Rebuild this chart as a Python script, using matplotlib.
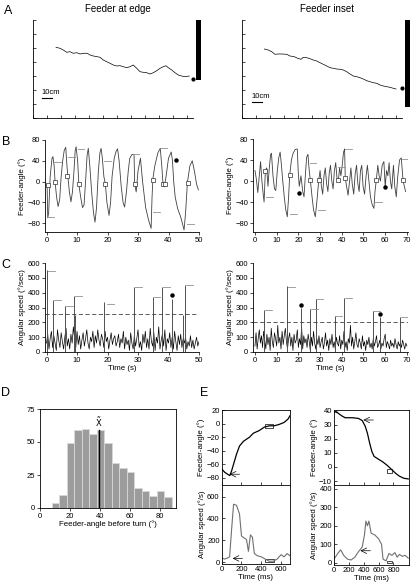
import numpy as np
import matplotlib
matplotlib.use("Agg")
from matplotlib import pyplot as plt
from matplotlib.patches import Rectangle

plt.rcParams['font.family'] = ['Liberation Sans', 'DejaVu Sans']
plt.rcParams['axes.linewidth'] = 0.6

W, H = 415, 586

# --- A: trajectories (position units, 10cm scale bar) ---
edge_x = [23, 27, 30.3, 33.7, 37, 40.3, 43.7, 47, 50.3, 54.3, 57, 60.3, 64.3, 67, 70.3, 73.7, 77, 80.3,
          83.7, 87, 90.3, 93.7, 97, 100.3, 103.7, 107, 110.3, 113.7, 117, 120.3, 123.7, 127, 130.3, 133,
          135.3, 138.7, 142, 145.3, 148.7, 152, 156.3]
edge_y = [70.7, 69.7, 68, 65.7, 66.3, 64.7, 65.3, 64, 64.7, 64.7, 63, 62, 61.3, 60.7, 58, 56.3, 54.7, 53,
          52, 52.3, 51.3, 50.3, 51.3, 53, 49.7, 46.3, 45.7, 45.3, 44, 45.3, 47.3, 49.7, 51.3, 52.3,
          50.3, 48, 45.3, 43, 42, 41.3, 42]
inset_x = [22.6, 26.6, 30, 33.3, 36.6, 40.6, 45, 48.3, 52.6, 56, 59.3, 61.6, 65, 68.3, 71.6, 75, 78.3,
           81.6, 85, 88.3, 91.6, 95, 98.3, 101.6, 105, 108.3, 111.6, 115, 118.3, 121.6, 125, 128.3,
           131.6, 135, 138.3, 141.6, 145, 148.3, 151.6, 154.3]
inset_y = [69, 68, 66.3, 63.7, 64, 64, 63.7, 62, 61.3, 59.7, 58.7, 60.7, 60.3, 59.3, 58, 57, 55.3, 53.7,
           52, 50.3, 49.7, 49, 48.7, 48, 46.3, 44, 42, 41.3, 40.3, 39, 37.3, 36.3, 35.3, 34.7, 33, 32,
           31.3, 30.7, 29.7, 29]
edge_end = (159.7, 38.7)
inset_end = (160, 29.7)
edge_wall = (38, 98)
inset_wall = (11, 99)

# --- B: feeder angle over time ---
bl_t = [0.0, 0.2, 0.4, 0.7, 1.2, 1.8, 2.1, 2.5, 2.8, 3.3, 3.8, 4.3, 4.8, 5.3, 5.8, 6.3, 6.7, 7.0, 7.5, 8.0,
        8.5, 9.0, 9.4, 9.7, 10.2, 10.6, 11.2, 11.8, 12.3, 12.8, 13.3, 13.7, 14.2, 14.8, 15.4, 15.9, 16.4,
        17.0, 17.5, 17.9, 18.3, 18.8, 19.3, 19.8, 20.5, 21.0, 21.5, 22.2, 22.8, 23.3, 23.8, 24.5, 25.1,
        25.6, 26.2, 26.8, 27.3, 28.0, 28.7, 28.9, 29.4, 30.0, 30.8, 31.5, 32.5, 33.5, 34.3, 34.6, 34.9,
        35.5, 36.5, 37.3, 37.8, 38.2, 38.6, 39.2, 40.0, 40.9, 41.3, 41.7, 42.2, 43.0, 44.0, 45.1, 45.6,
        46.2, 47.0, 47.8, 48.5, 49.2, 49.8]
bl_a = [-5, -10, -70, -60, 10, 45, 48, 30, 0, -30, -48, -35, 10, 40, 60, 66, 30, 10, -20, -39,
        -20, 20, 60, 67, 40, -5, -30, -50, -45, 0, 50, 64, 30, -20, -60, -78, -50,
        20, 55, 64, 45, 10, -5, -40, -65, -40, 10, 45, 58, 63, 40, -10, -40,
        -49, -20, 20, 45, 52, 52, -4, -20, 20, 45, 0, -50, -75, -90, -30, 6,
        30, 55, 64, 30, -5, -10, 10, 45, 57, 40, 0, -30, -52, -68, -93, -60,
        -2, 30, 40, 20, -5, -16]
bl_marks = [(0.3, -68), (2.6, 38), (7.2, 48), (10.2, 62), (18.9, 40), (28.2, 54), (34.8, -59), (37.4, 64), (46.2, -81)]
bl_boxes = [(0.5, -7), (2.7, 0), (6.6, 10), (10.6, -5), (19.3, -5), (28.9, -4), (34.9, 4), (38.2, -5), (38.8, -5), (46.3, -2)]
bl_dots = [(42.3, 42)]

br_t = [0.0, 0.6, 1.3, 2.0, 2.6, 3.2, 3.8, 4.2, 4.8, 5.4, 6.0, 6.5, 7.2, 7.6, 8.3, 9.0, 9.6, 10.3, 11.0, 11.6,
        12.2, 12.8, 13.5, 14.2, 14.9, 15.5, 16.0, 16.8, 17.5, 18.5, 19.5, 19.9, 20.4, 21.2, 22.0, 22.6,
        23.2, 23.8, 24.4, 25.0, 25.5, 26.3, 27.0, 27.8, 28.5, 29.4, 30.0, 30.6, 31.2, 31.8, 32.4, 33.0,
        33.6, 34.2, 34.8, 35.4, 36.0, 36.6, 37.2, 37.8, 38.4, 39.0, 39.6, 40.2, 40.8, 41.3, 41.6, 42.2,
        42.9, 43.6, 44.2, 44.8, 45.5, 46.2, 46.8, 47.4, 48.0, 48.6, 49.2, 49.8, 50.5, 51.2, 51.8, 52.5,
        53.2, 54.0, 54.8, 55.3, 55.9, 56.6, 57.2, 57.8, 58.6, 59.4, 60.0, 60.6, 61.2, 61.8, 62.4, 63.0,
        63.8, 64.4, 65.1, 65.8, 66.6, 67.4, 68.2, 68.8, 69.4]
br_a = [20, 5, -22, 10, 37, 0, -25, -40, 20, 25, -10, 20, 50, 53, 10, -15, -18, 20, 45, 55,
        30, 0, -30, -55, -68, -30, 11, 40, 52, 60, 61, 20, -10, 10, -20, -30,
        10, 45, 51, 20, 2, -30, -55, -68, -40, 2, 20, -10, -25, 10, 25, -5,
        -20, 15, 30, 0, -15, 20, 35, 5, 0, 25, 10, 30, 55, 61, 6, -10,
        -27, 0, 25, -5, -25, 15, 30, -5, -20, 20, 30, -10, -25, 10, 30, 0,
        -30, -45, -52, -20, 2, 30, 10, 0, 30, 37, -11, 20, 10, 35, 0, -15,
        30, -10, -30, 10, 40, 44, 2, -10, -20]
br_marks = [(5.2, -30), (16.0, -63), (25.2, 34), (29.0, -55), (38.2, 27), (41.6, 61), (55.5, -39), (67.7, 42)]
br_boxes = [(4.8, 20), (16.0, 11), (25.5, 2), (29.4, 2), (38.4, 2), (41.6, 6), (55.9, 2), (68.2, 2)]
br_dots = [(20.1, -23), (60.0, -11)]

# --- C: angular speed ---
cl_speed = [60, 120, 20, 90, 140, 30, 110, 60, 10, 150, 80, 30, 130, 70, 20, 100, 160, 40, 90, 20,
            120, 60, 170, 90, 30, 140, 50, 110, 20, 80, 130, 40, 90, 150, 60, 20, 100, 70, 140, 30,
            110, 60, 150, 80, 40, 120, 90, 30, 140, 70, 100, 20, 80, 130, 50, 90, 110, 40, 70, 120,
            30, 90, 60, 140, 20, 100, 50, 80, 10, 130, 60, 20, 110, 40, 90, 150, 30, 70, 10, 120,
            60, 140, 30, 90, 20, 160, 70, 40, 130, 10, 100, 60, 170, 20, 80, 120, 40, 150, 10, 90,
            60, 130, 30, 100, 20, 140, 70, 10, 110, 50, 120, 30, 90, 60, 100, 20, 70, 40, 110, 30,
            80, 20, 60, 100, 40, 70]
cl_spike_t = [0.1, 2.2, 6.2, 9.0, 9.5, 18.8, 28.7, 34.8, 37.8, 41.0, 44.7, 45.5]
cl_spike_v = [550, 350, 310, 380, 250, 340, 435, 370, 440, 360, 250, 450]
cl_marks = [(0.5, 548), (2.5, 348), (6.5, 308), (9.4, 375), (19.8, 325), (29.0, 435), (35.1, 368), (38.2, 438), (45.8, 450)]
cl_dots = [(41.2, 385)]
cl_thresh = 255

cr_speed = [40, 130, 20, 90, 150, 60, 110, 30, 140, 80, 20, 120, 50, 100, 10, 160, 70, 30, 130, 90,
            40, 180, 60, 100, 20, 140, 50, 110, 160, 70, 20, 90, 130, 40, 100, 10, 120, 60, 80, 150,
            30, 90, 50, 170, 20, 110, 60, 90, 30, 120, 70, 10, 100, 40, 140, 60, 20, 90, 50, 110,
            30, 70, 100, 20, 60, 130, 40, 80, 10, 90, 50, 120, 30, 70, 20, 100, 60, 40, 110, 20,
            80, 50, 140, 30, 70, 10, 90, 60, 180, 40, 100, 20, 70, 130, 50, 30, 90, 60, 20, 110,
            40, 70, 10, 80, 50, 100, 30, 60, 20, 90, 40, 70, 110, 30, 50, 80, 20, 60, 40, 90,
            120, 30, 70, 50, 20, 80, 40, 60, 30, 90, 50, 20, 70, 40, 60, 30, 80, 50, 20, 60, 40]
cr_spike_t = [4.3, 14.8, 21.3, 25.4, 27.9, 36.8, 41.1, 54.2, 57.7, 67.0]
cr_spike_v = [285, 443, 300, 290, 357, 245, 364, 274, 235, 236]
cr_marks = [(4.6, 283), (15.1, 440), (25.7, 288), (28.2, 357), (37.1, 245), (41.4, 364), (54.5, 276), (67.3, 238)]
cr_dots = [(21.3, 320), (57.7, 256)]
cr_thresh = 200

# --- D: histogram of feeder angle before turn ---
d_edges = [8, 13, 18, 23, 28, 33, 38, 43, 48, 53, 58, 63, 68, 73, 78, 83, 88]
d_counts = [4, 10, 49, 59, 60, 56, 59, 49, 34, 30, 27, 15, 13, 9, 13, 8]
d_mean = 39.5

# --- E: single turns ---
el_t = [0, 30, 60, 82, 100, 120, 150, 180, 220, 280, 320, 380, 430, 480, 530, 580, 630, 670, 690]
el_angle = [-67, -72, -75, -77, -70, -60, -45, -33, -26, -20, -14, -10, -5, -3, -3, -1, 2, 7, 12]
el_st = [0, 30, 60, 80, 100, 120, 150, 180, 200, 230, 250, 270, 290, 310, 330, 360, 400, 440, 480,
         520, 560, 600, 630, 660, 690]
el_speed = [40, 30, 40, 50, 300, 530, 520, 440, 240, 220, 210, 100, 250, 230, 80, 60, 50, 30, 10,
            10, 30, 70, 50, 80, 60]
er_t = [0, 50, 100, 150, 250, 330, 380, 420, 450, 480, 510, 540, 600, 660, 720, 780, 830, 880, 940, 1000]
er_angle = [39.5, 38.5, 36.5, 35, 35, 34.5, 33, 29, 24, 17, 11, 7.5, 5.5, 3.5, 1, -2, -4.5, -6.5, -8, -8.5]
er_st = [0, 50, 90, 130, 180, 230, 280, 330, 380, 410, 430, 450, 470, 500, 550, 600, 640, 660, 700,
         740, 780, 820, 850, 880, 920, 960, 1000]
er_speed = [20, 50, 70, 40, 20, 15, 30, 60, 85, 150, 225, 200, 225, 160, 150, 130, 100, 20, 10,
            50, 40, 55, 30, 45, 35, 40, 25]


def add_ax(x0, y0, x1, y1):
    return fig.add_axes([x0 / W, 1 - y1 / H, (x1 - x0) / W, (y1 - y0) / H])


def style(ax, direction='out', box=False):
    ax.tick_params(labelsize=5.5, length=2, width=0.5, pad=1.5, direction=direction)
    if not box:
        ax.spines['top'].set_visible(False)
        ax.spines['right'].set_visible(False)


def panel_a(ax, xs, ys, end, wall, bar_y, title):
    ax.plot(xs, ys, color='black', lw=0.5)
    ax.plot(*end, 'o', color='black', ms=2)
    ax.add_patch(Rectangle((163, wall[0]), 5, wall[1] - wall[0], color='black', lw=0))
    ax.set_xlim(0, 170)
    ax.set_ylim(0, 98)
    ax.spines['bottom'].set_bounds(0, 160)
    ax.set_xticks(range(0, 161, 14))
    ax.set_yticks(range(0, 99, 14))
    ax.tick_params(labelbottom=False, labelleft=False, direction='in', length=2, width=0.5)
    ax.spines['top'].set_visible(False)
    ax.spines['right'].set_visible(False)
    ax.plot([bar_y[0], bar_y[0] + 10], [bar_y[1], bar_y[1]], color='black', lw=0.8)
    ax.text(bar_y[0], bar_y[1] + 1.5, '10cm', fontsize=5.5, va='bottom', ha='left')
    ax.set_title(title, fontsize=7, pad=6)


def panel_b(ax, t, a, marks, boxes, dots, xmax, xl):
    ax.plot(t, a, color='#404040', lw=0.6)
    for mt, ma in marks:
        ax.plot([mt, mt + xmax * 0.045], [ma, ma], color='#909090', lw=0.6)
    bx, by = zip(*boxes)
    ax.plot(bx, by, 's', mfc='white', mec='#303030', ms=3.2, mew=0.5)
    dx, dy = zip(*dots)
    ax.plot(dx, dy, 'o', color='black', ms=2.2)
    ax.set_xlim(*xl)
    ax.set_ylim(-97, 80)
    ax.set_yticks([-80, -40, 0, 40, 80])
    ax.set_xticks(range(0, xmax + 1, 10))
    ax.set_ylabel('Feeder-angle (°)', fontsize=5.7, labelpad=1)
    style(ax)


def panel_c(ax, speed, st, sv, marks, dots, thresh, xmax, xl):
    tt = np.linspace(0, xmax, len(speed))
    ax.plot(tt, speed, color='black', lw=0.5)
    ax.vlines(st, 0, sv, color='#505050', lw=0.7)
    for mt, mv in marks:
        ax.plot([mt, mt + xmax * 0.045], [mv, mv], color='#909090', lw=0.6)
    dx, dy = zip(*dots)
    ax.plot(dx, dy, 'o', color='black', ms=2.2)
    ax.axhline(thresh, color='#404040', lw=0.6, ls=(0, (5, 3)))
    ax.set_xlim(*xl)
    ax.set_ylim(0, 600)
    ax.set_yticks(range(0, 601, 100))
    ax.set_xticks(range(0, xmax + 1, 10))
    ax.set_ylabel('Angular speed (°/sec)', fontsize=5.7, labelpad=1)
    ax.set_xlabel('Time (s)', fontsize=5.7, labelpad=0.5)
    style(ax)


fig = plt.figure(figsize=(W / 100, H / 100), dpi=100)

# A
ax = add_ax(33, 20, 203, 118)
panel_a(ax, edge_x, edge_y, edge_end, edge_wall, (8.5, 20), 'Feeder at edge')
ax = add_ax(241.7, 20, 411.7, 118)
panel_a(ax, inset_x, inset_y, inset_end, inset_wall, (10, 16.3), 'Feeder inset')

# B
ax = add_ax(45, 140, 199, 232)
panel_b(ax, bl_t, bl_a, bl_marks, bl_boxes, bl_dots, 50, (-0.5, 50))
ax = add_ax(253, 139, 408, 232)
panel_b(ax, br_t, br_a, br_marks, br_boxes, br_dots, 70, (-0.9, 70.5))

# C
ax = add_ax(45, 263, 199, 352)
panel_c(ax, cl_speed, cl_spike_t, cl_spike_v, cl_marks, cl_dots, cl_thresh, 50, (-0.5, 50))
ax = add_ax(253, 263, 408, 352)
panel_c(ax, cr_speed, cr_spike_t, cr_spike_v, cr_marks, cr_dots, cr_thresh, 70, (-0.9, 70.5))

# D
ax = add_ax(40, 409, 176, 508)
ax.bar(d_edges[:-1], d_counts, width=np.diff(d_edges), align='edge',
       color='#9c9c9c', edgecolor='#d8d8d8', lw=0.6)
ax.plot([d_mean, d_mean], [0, 59], color='black', lw=1.0)
ax.text(d_mean, 60, r'$\tilde{\mathrm{X}}$', fontsize=6, ha='center', va='bottom')
ax.set_xlim(0, 91)
ax.set_ylim(0, 75)
ax.set_xticks([0, 20, 40, 60, 80])
ax.set_yticks([0, 25, 50, 75])
ax.set_xlabel('Feeder-angle before turn (°)', fontsize=5.7, labelpad=0.5)
style(ax, box=True)

# E left
ax1 = add_ax(221.7, 410, 290, 485)
ax1.plot(el_t, el_angle, color='black', lw=0.9)
ax1.annotate('', xy=(80, -75), xytext=(180, -75),
             arrowprops=dict(arrowstyle='->', lw=0.5, color='black', shrinkA=0, shrinkB=0))
ax1.add_patch(Rectangle((440, -7), 80, 6, fill=False, lw=0.5, ec='black'))
ax1.set_xlim(0, 690)
ax1.set_ylim(-91, 20.5)
ax1.set_yticks([-80, -60, -40, -20, 0, 20])
ax1.set_xticks([0, 200, 400, 600])
ax1.tick_params(labelbottom=False)
ax1.set_ylabel('Feeder-angle (°)', fontsize=5.7, labelpad=1)
style(ax1, direction='in', box=True)
ax1.tick_params(labelbottom=False)

ax2 = add_ax(221.7, 485, 290, 564)
ax2.plot(el_st, el_speed, color='#707070', lw=0.8)
ax2.annotate('', xy=(110, 36), xytext=(210, 36),
             arrowprops=dict(arrowstyle='->', lw=0.5, color='black', shrinkA=0, shrinkB=0))
ax2.add_patch(Rectangle((440, 0), 85, 28, fill=False, lw=0.5, ec='black'))
ax2.set_xlim(0, 690)
ax2.set_ylim(-15, 705)
ax2.set_yticks([0, 200, 400, 600])
ax2.set_xticks([0, 200, 400, 600])
ax2.set_ylabel('Angular speed (°/s)', fontsize=5.7, labelpad=1)
ax2.set_xlabel('Time (ms)', fontsize=5.7, labelpad=0.5)
style(ax2, direction='in', box=True)

# E right
ax3 = add_ax(334, 410, 409, 485)
ax3.plot(er_t, er_angle, color='black', lw=0.9)
ax3.annotate('', xy=(395, 33.4), xytext=(530, 33.4),
             arrowprops=dict(arrowstyle='->', lw=0.5, color='black', shrinkA=0, shrinkB=0))
ax3.add_patch(Rectangle((715, -4.4), 70, 3.2, fill=False, lw=0.5, ec='black'))
ax3.set_xlim(0, 1010)
ax3.set_ylim(-12.8, 40.5)
ax3.set_yticks([-10, 0, 10, 20, 30, 40])
ax3.set_xticks([0, 200, 400, 600, 800])
ax3.set_ylabel('Feeder-angle (°)', fontsize=5.7, labelpad=1)
style(ax3, direction='in', box=True)
ax3.tick_params(labelbottom=False)

ax4 = add_ax(334, 485, 409, 565)
ax4.plot(er_st, er_speed, color='#707070', lw=0.8)
ax4.annotate('', xy=(355, 65), xytext=(490, 65),
             arrowprops=dict(arrowstyle='->', lw=0.5, color='black', shrinkA=0, shrinkB=0))
ax4.add_patch(Rectangle((710, 0), 75, 12, fill=False, lw=0.5, ec='black'))
ax4.set_xlim(0, 1010)
ax4.set_ylim(-12, 420)
ax4.set_yticks([0, 100, 200, 300, 400])
ax4.set_xticks([0, 200, 400, 600, 800])
ax4.set_ylabel('Angular speed (°/s)', fontsize=5.7, labelpad=1)
ax4.set_xlabel('Time (ms)', fontsize=5.7, labelpad=0.5)
style(ax4, direction='in', box=True)

# panel letters
for lab, x, y in [('A', 8, 11), ('B', 6, 142), ('C', 6, 265), ('D', 5, 393), ('E', 204, 393)]:
    fig.text(x / W, 1 - y / H, lab, fontsize=9, ha='center', va='center')

fig.savefig('out.png', dpi=100)
